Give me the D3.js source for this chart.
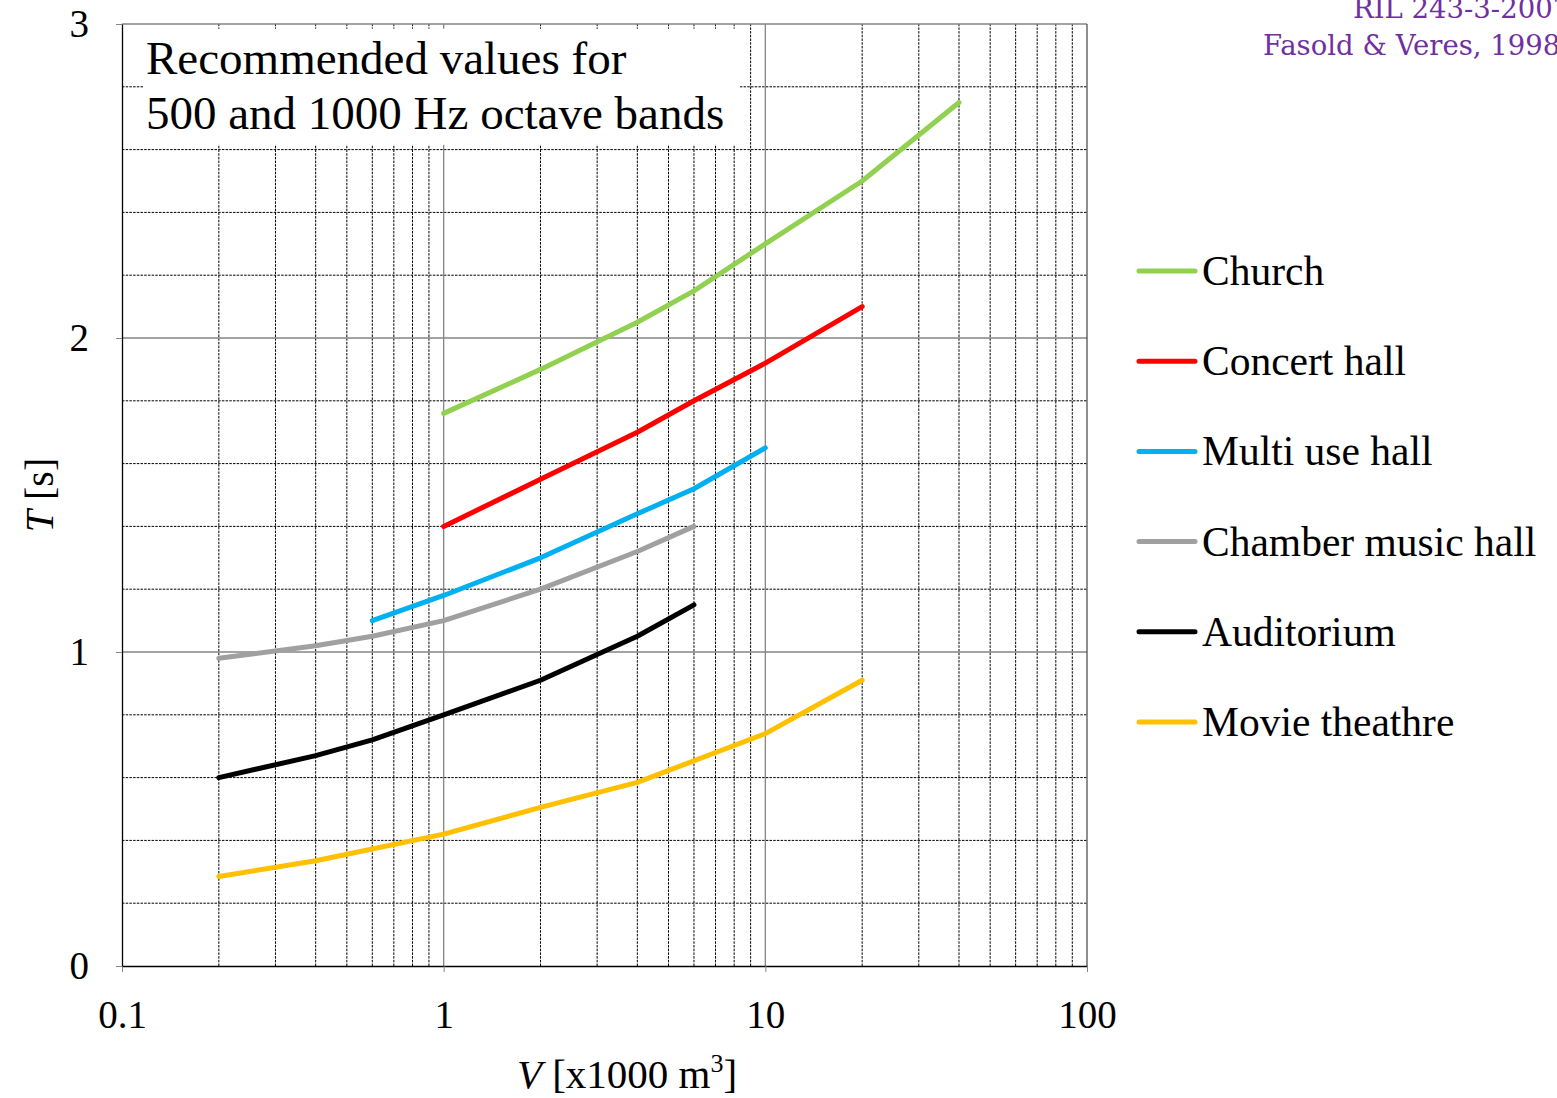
<!DOCTYPE html>
<html>
<head>
<meta charset="utf-8">
<script src="https://cdn.jsdelivr.net/npm/d3@7"></script>
<style>
  html, body { margin: 0; padding: 0; background: #fff; }
  svg { display: block; font-family: "Liberation Serif", "Times New Roman", serif; }
</style>
</head>
<body>
<svg id="chart" width="1557" height="1098"></svg>
<script>
// Reverberation time T [s] against room volume V [x1000 m³]
const churchV = [1, 2, 4, 6, 10, 20, 40];
const churchT = [1.76, 1.90, 2.05, 2.15, 2.30, 2.50, 2.75];

const concertV = [1, 2, 4, 6, 10, 20];
const concertT = [1.40, 1.55, 1.70, 1.80, 1.92, 2.10];

const multiV = [0.6, 1, 2, 4, 6, 10];
const multiT = [1.10, 1.18, 1.30, 1.44, 1.52, 1.65];

const chamberV = [0.2, 0.4, 0.6, 1, 2, 4, 6];
const chamberT = [0.98, 1.02, 1.05, 1.10, 1.20, 1.32, 1.40];

const auditoriumV = [0.2, 0.4, 0.6, 1, 2, 4, 6];
const auditoriumT = [0.60, 0.67, 0.72, 0.80, 0.91, 1.05, 1.15];

const movieV = [0.2, 0.4, 1, 2, 4, 10, 20];
const movieT = [0.285, 0.335, 0.42, 0.505, 0.585, 0.74, 0.91];

const seriesNames = ["Church", "Concert hall", "Multi use hall", "Chamber music hall", "Auditorium", "Movie theathre"];
const seriesColors = ["#92d050", "#ff0000", "#00b0f0", "#a0a0a0", "#000000", "#ffc000"];
const seriesV = [churchV, concertV, multiV, chamberV, auditoriumV, movieV];
const seriesT = [churchT, concertT, multiT, chamberT, auditoriumT, movieT];

const xTicks = [0.1, 1, 10, 100];
const xTickLabels = ["0.1", "1", "10", "100"];
const yTicks = [0, 1, 2, 3];

const svg = d3.select("#chart");
const x = d3.scaleLog().domain([0.1, 100]).range([122, 1087]);
const y = d3.scaleLinear().domain([0, 3]).range([966, 24]);

// minor grid
const minorX = [];
[0.1, 1, 10].forEach(d => { for (let k = 2; k <= 9; k++) minorX.push(d * k); });
const minorY = d3.range(1, 15).map(i => i * 0.2).filter(v => Math.abs(v - Math.round(v)) > 1e-6);

const grid = svg.append("g");
grid.selectAll(".mx").data(minorX).join("line")
  .attr("x1", d => x(d)).attr("x2", d => x(d))
  .attr("y1", y(0)).attr("y2", y(3))
  .attr("stroke", "#000").attr("stroke-width", 1).attr("stroke-dasharray", "2.5,1.2");
grid.selectAll(".my").data(minorY).join("line")
  .attr("x1", x(0.1)).attr("x2", x(100))
  .attr("y1", d => y(d)).attr("y2", d => y(d))
  .attr("stroke", "#000").attr("stroke-width", 1).attr("stroke-dasharray", "2.5,1.2");
// major grid
grid.selectAll(".Mx").data([1, 10]).join("line")
  .attr("x1", d => x(d)).attr("x2", d => x(d))
  .attr("y1", y(0)).attr("y2", y(3))
  .attr("stroke", "#858585").attr("stroke-width", 1.3);
grid.selectAll(".My").data([1, 2, 3]).join("line")
  .attr("x1", x(0.1)).attr("x2", x(100))
  .attr("y1", d => y(d)).attr("y2", d => y(d))
  .attr("stroke", "#858585").attr("stroke-width", 1.3);
// right border
grid.append("line")
  .attr("x1", x(100)).attr("x2", x(100)).attr("y1", y(0)).attr("y2", y(3))
  .attr("stroke", "#444").attr("stroke-width", 1.2);

// annotation box
svg.append("rect")
  .attr("x", 143).attr("y", y(2.985)).attr("width", 597).attr("height", y(2.615) - y(2.985))
  .attr("fill", "#fff");
const note = svg.append("text").attr("font-size", 47).attr("fill", "#000");
note.append("tspan").attr("x", 146).attr("y", 74).text("Recommended values for");
note.append("tspan").attr("x", 146).attr("y", 129).text("500 and 1000 Hz octave bands");

// axes
const xAxis = d3.axisBottom(x).tickValues(xTicks).tickFormat((d, i) => xTickLabels[i]).tickSize(6).tickSizeOuter(0);
const gx = svg.append("g").attr("transform", `translate(0,${y(0)})`).call(xAxis);
gx.select(".domain").attr("stroke", "#000").attr("stroke-width", 1.3);
gx.selectAll(".tick line").attr("stroke", "#888");
gx.selectAll(".tick text").attr("font-family", "Liberation Serif, serif").attr("font-size", 39).attr("fill", "#000").attr("dy", 0).attr("y", 62);

const yAxis = d3.axisLeft(y).tickValues(yTicks).tickFormat(d3.format("d")).tickSize(6).tickSizeOuter(0);
const gy = svg.append("g").attr("transform", `translate(${x(0.1)},0)`).call(yAxis);
gy.select(".domain").attr("stroke", "#000").attr("stroke-width", 1.3);
gy.selectAll(".tick line").attr("stroke", "#888");
gy.selectAll(".tick text").attr("font-family", "Liberation Serif, serif").attr("font-size", 39).attr("fill", "#000").attr("x", -33).attr("dy", "0.33em");

// axis titles
const xt = svg.append("text").attr("x", 627).attr("y", 1088).attr("text-anchor", "middle").attr("font-size", 41);
xt.append("tspan").attr("font-style", "italic").text("V");
xt.append("tspan").text(" [x1000 m");
xt.append("tspan").attr("font-size", 26).attr("dy", -16).text("3");
xt.append("tspan").attr("dy", 16).text("]");

const yt = svg.append("text").attr("transform", "translate(53,495) rotate(-90)").attr("text-anchor", "middle").attr("font-size", 40);
yt.append("tspan").attr("font-style", "italic").text("T");
yt.append("tspan").text(" [s]");

// curves
const line = d3.line().x(d => x(d[0])).y(d => y(d[1]));
const curves = svg.append("g");
seriesNames.forEach((name, i) => {
  const pts = seriesV[i].map((v, j) => [v, seriesT[i][j]]);
  curves.append("path").datum(pts)
    .attr("d", line)
    .attr("fill", "none")
    .attr("stroke", seriesColors[i])
    .attr("stroke-width", 5)
    .attr("stroke-linecap", "round")
    .attr("stroke-linejoin", "round");
});

// legend
const legend = svg.append("g");
seriesNames.forEach((name, i) => {
  const ly = 271 + i * 90.2;
  legend.append("line")
    .attr("x1", 1139).attr("x2", 1195).attr("y1", ly).attr("y2", ly)
    .attr("stroke", seriesColors[i]).attr("stroke-width", 5).attr("stroke-linecap", "round");
  legend.append("text").attr("x", 1202).attr("y", ly + 14).attr("font-size", 41.5).text(name);
});

// source note
const src = svg.append("text").attr("fill", "#7030a0").attr("font-size", 27.5).attr("font-family", "DejaVu Serif, serif");
src.append("tspan").attr("x", 1353).attr("y", 18).text("RIL 243-3-2007");
src.append("tspan").attr("x", 1263).attr("y", 55).text("Fasold & Veres, 1998");
</script>
</body>
</html>
